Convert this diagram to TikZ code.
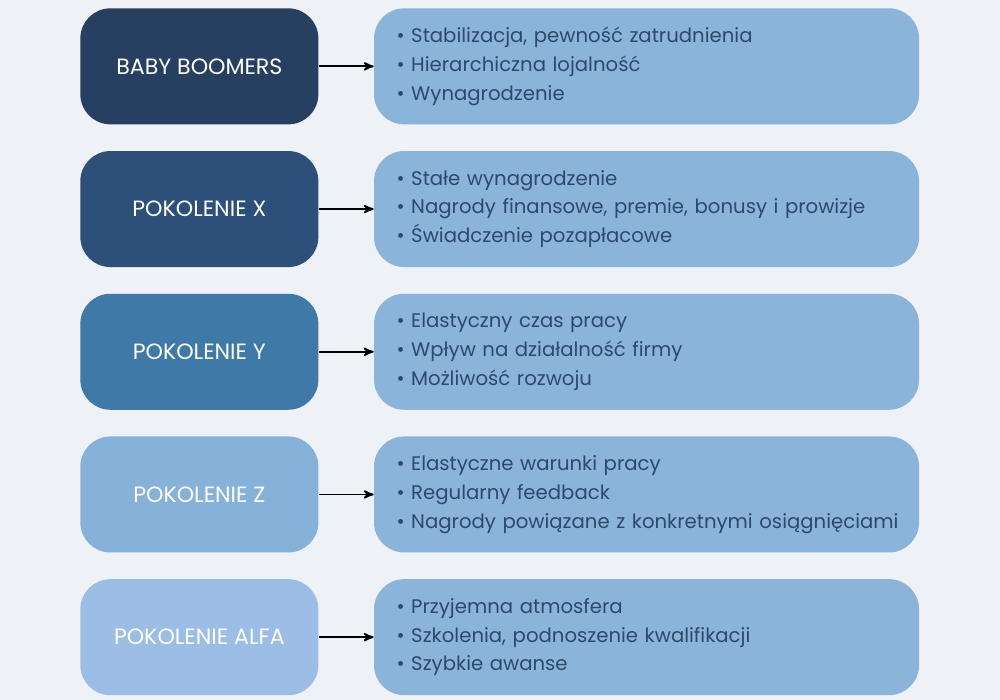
\documentclass[tikz,border=0pt]{standalone}
\usepackage{fontspec}
\setmainfont{Poppins}
\usetikzlibrary{positioning}
\usetikzlibrary{arrows}
\definecolor{bgcol}{HTML}{EEF1F5}
\definecolor{boomcol}{HTML}{273F60}
\definecolor{xcol}{HTML}{2C5079}
\definecolor{ycol}{HTML}{3E79A8}
\definecolor{zcol}{HTML}{86B1D8}
\definecolor{alfacol}{HTML}{9BBDE6}
\definecolor{listcol}{HTML}{8AB4D9}
\definecolor{listtext}{HTML}{2E4A6A}
\tikzset{node distance=0.52cm and 1.1cm, % vertical and horizontal gaps
      gen/.style={ % the generation boxes on the left
      rounded corners=0.6cm,
      minimum width=4.76cm,
      minimum height=2.32cm,
      text=white,
      font=\fontsize{12.6}{14}\selectfont},
      list/.style={ % the lists on the right
      rounded corners=0.6cm,
      fill=listcol,
      minimum width=10.9cm,
      minimum height=2.32cm,
      text width=10.9cm-0.9cm,
      inner xsep=0.45cm,
      align=left,
      text=listtext,
      font=\fontsize{11.2}{16.4}\selectfont},
      link/.style={->,>=stealth', line width=1pt}}

\begin{document}
\begin{tikzpicture}
      \fill[bgcol] (0,0) rectangle (20,-14);
      \node[gen, fill=boomcol, anchor=north west] (boomers) at (1.6,-0.16) {BABY BOOMERS};
      \node[gen, fill=xcol, below=of boomers] (genx) {POKOLENIE X};
      \node[gen, fill=ycol, below=of genx] (geny) {POKOLENIE Y};
      \node[gen, fill=zcol, below=of geny] (genz) {POKOLENIE Z};
      \node[gen, fill=alfacol, below=of genz] (alfa) {POKOLENIE ALFA};
      \node[list, right=of boomers] (lboomers) {\textbullet\ Stabilizacja, pewność zatrudnienia\\
            \textbullet\ Hierarchiczna lojalność\\
            \textbullet\ Wynagrodzenie};
      \node[list, right=of genx] (lgenx) {\textbullet\ Stałe wynagrodzenie\\
            \textbullet\ Nagrody finansowe, premie, bonusy i prowizje\\
            \textbullet\ Świadczenie pozapłacowe};
      \node[list, right=of geny] (lgeny) {\textbullet\ Elastyczny czas pracy\\
            \textbullet\ Wpływ na działalność firmy\\
            \textbullet\ Możliwość rozwoju};
      \node[list, right=of genz] (lgenz) {\textbullet\ Elastyczne warunki pracy\\
            \textbullet\ Regularny feedback\\
            \mbox{\textbullet\ Nagrody powiązane z konkretnymi osiągnięciami}};
      \node[list, right=of alfa] (lalfa) {\textbullet\ Przyjemna atmosfera\\
            \textbullet\ Szkolenia, podnoszenie kwalifikacji\\
            \textbullet\ Szybkie awanse};
      \draw[link] (boomers) -- (lboomers);
      \draw[link] (genx) -- (lgenx);
      \draw[link] (geny) -- (lgeny);
      \draw[link] (genz) -- (lgenz);
      \draw[link] (alfa) -- (lalfa);
\end{tikzpicture}
\end{document}
